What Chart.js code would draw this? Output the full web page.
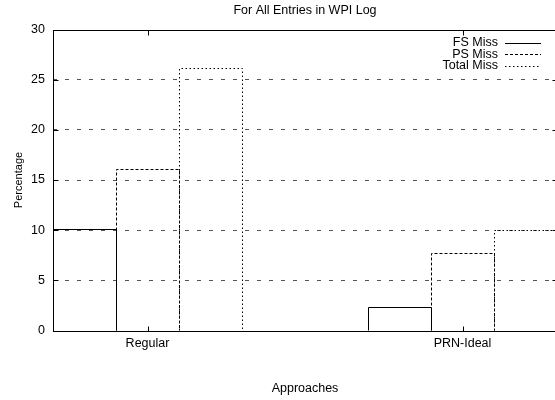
<!DOCTYPE html>
<html>
<head>
<meta charset="utf-8">
<script src="https://cdn.jsdelivr.net/npm/chart.js@4.4.1/dist/chart.umd.min.js"></script>
<style>
  html, body { margin: 0; padding: 0; background: #fff; overflow: hidden; }
  #wrap { width: 610px; height: 400px; }
</style>
</head>
<body>
<div id="wrap"><canvas id="chart" width="610" height="400"></canvas></div>
<script>
const categories = ['Regular', 'PRN-Ideal'];
const seriesNames = ['FS Miss', 'PS Miss', 'Total Miss'];
const fsMiss = [10.1, 2.3];
const psMiss = [16.1, 7.7];
const totalMiss = [26.2, 10.0];
const yTicks = [0, 5, 10, 15, 20, 25, 30];

// line styles per series: solid, dashed, dotted
const dashes = [[], [3, 2], [1.5, 2.5]];

const family = '"Liberation Sans", Arial, sans-serif';
const font = { family: family, size: 12.5, weight: 'normal' };
Chart.defaults.font = font;
Chart.defaults.color = '#000';

const crisp = v => Math.round(v) + 0.5;

/* Bar outlines with dash patterns (bars themselves are unfilled) */
const barOutlines = {
  id: 'barOutlines',
  afterDatasetsDraw(chart) {
    const { ctx, chartArea: a } = chart;
    ctx.save();
    ctx.beginPath();
    ctx.rect(a.left, a.top - 1, a.right - a.left + 1, a.bottom - a.top + 2);
    ctx.clip();
    ctx.strokeStyle = '#000';
    ctx.lineWidth = 1;
    chart.data.datasets.forEach((ds, i) => {
      const meta = chart.getDatasetMeta(i);
      ctx.setLineDash(dashes[i]);
      meta.data.forEach(el => {
        const { x, y, base, width } = el.getProps(['x', 'y', 'base', 'width'], true);
        const l = crisp(x - width / 2), r = crisp(x + width / 2);
        const t = crisp(y), b = crisp(base);
        ctx.beginPath();
        ctx.moveTo(l, b);
        ctx.lineTo(l, t);
        ctx.lineTo(r, t);
        ctx.lineTo(r, b);
        ctx.stroke();
      });
    });
    ctx.restore();
  }
};

/* Plot frame, inward ticks and the legend inside the plot */
const frame = {
  id: 'frame',
  afterDraw(chart) {
    const { ctx, chartArea: a, scales: { x, y } } = chart;
    const L = crisp(a.left), R = crisp(a.right), T = crisp(a.top), B = crisp(a.bottom);
    ctx.save();
    ctx.strokeStyle = '#000';
    ctx.lineWidth = 1;
    ctx.strokeRect(L, T, R - L, B - T);
    ctx.beginPath();
    yTicks.forEach(v => {
      const py = crisp(y.getPixelForValue(v));
      ctx.moveTo(L, py); ctx.lineTo(L + 5, py);
      ctx.moveTo(R, py); ctx.lineTo(R - 5, py);
    });
    categories.forEach((c, i) => {
      const px = crisp(x.getPixelForValue(i));
      ctx.moveTo(px, B); ctx.lineTo(px, B - 5);
      ctx.moveTo(px, T); ctx.lineTo(px, T + 5);
    });
    ctx.stroke();

    // legend
    ctx.font = '12.5px ' + family;
    ctx.fillStyle = '#000';
    ctx.textAlign = 'right';
    ctx.textBaseline = 'middle';
    seriesNames.forEach((name, i) => {
      const ry = a.top + 13.3 + i * 11.4;
      ctx.fillText(name, a.right - 59, ry);
      ctx.setLineDash(dashes[i]);
      ctx.beginPath();
      ctx.moveTo(a.right - 52, crisp(ry));
      ctx.lineTo(a.right - 16, crisp(ry));
      ctx.stroke();
    });
    ctx.restore();
  }
};

const ctx = document.getElementById('chart').getContext('2d');
new Chart(ctx, {
  type: 'bar',
  data: {
    datasets: [fsMiss, psMiss, totalMiss].map((vals, i) => ({
      label: seriesNames[i],
      data: vals.map((v, j) => ({ x: j, y: v })),
      backgroundColor: 'rgba(0,0,0,0)',
      borderWidth: 0,
      categoryPercentage: 0.6,
      barPercentage: 1
    }))
  },
  options: {
    responsive: false,
    animation: false,
    devicePixelRatio: 1,
    layout: { padding: { left: 0, right: 53, top: 0, bottom: 0 } },
    plugins: {
      legend: { display: false },
      tooltip: { enabled: false },
      title: {
        display: true,
        fullSize: false,
        text: 'For All Entries in WPI Log',
        font: font,
        color: '#000',
        padding: { top: 3.5, bottom: 11 }
      }
    },
    scales: {
      x: {
        type: 'linear',
        offset: false,
        min: -0.3,
        max: 1.3,
        afterBuildTicks: s => { s.ticks = categories.map((c, i) => ({ value: i })); },
        afterFit: s => { s.height = 69.5; },
        grid: { display: false, drawTicks: false, offset: false },
        border: { display: false },
        ticks: { padding: 6, autoSkip: false, maxRotation: 0, callback: v => categories[v] },
        title: { display: true, text: 'Approaches', padding: { top: 0, bottom: 4 } }
      },
      y: {
        min: 0,
        max: 30,
        afterBuildTicks: s => { s.ticks = yTicks.map(v => ({ value: v })); },
        afterFit: s => { s.width = 53; },
        grid: {
          drawTicks: false,
          lineWidth: 1,
          color: c => (c.tick && (c.tick.value === 0 || c.tick.value === 30)) ? 'rgba(0,0,0,0)' : '#555'
        },
        border: { display: false, dash: [4, 8] },
        ticks: { padding: 8 },
        title: {
          display: true,
          text: 'Percentage',
          font: { family: family, size: 11 },
          padding: { top: 12.5, bottom: 0 }
        }
      }
    }
  },
  plugins: [barOutlines, frame]
});
</script>
</body>
</html>
